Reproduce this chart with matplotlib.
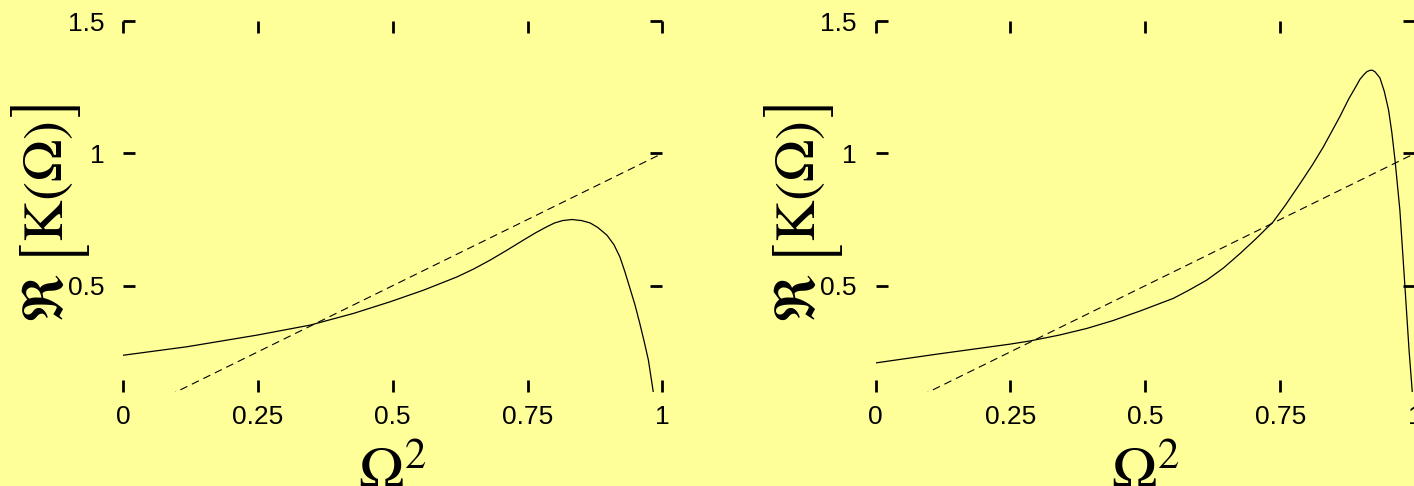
import os
import matplotlib
matplotlib.use("Agg")
import matplotlib.pyplot as plt
from matplotlib.font_manager import FontProperties

# Re[K(Omega)] against Omega^2, two parameter cases, with the line y = Omega^2
omega2_a = [0.0, 0.118, 0.248, 0.347, 0.427, 0.495, 0.557, 0.619, 0.650, 0.680,
            0.710, 0.742, 0.765, 0.785, 0.800, 0.815, 0.832, 0.850, 0.866, 0.880,
            0.897, 0.910, 0.921, 0.930, 0.939, 0.949, 0.958, 0.966, 0.974, 0.983]
re_k_a = [0.237, 0.269, 0.313, 0.351, 0.395, 0.439, 0.483, 0.533, 0.563, 0.596,
          0.632, 0.672, 0.700, 0.722, 0.737, 0.746, 0.750, 0.746, 0.737, 0.720,
          0.691, 0.655, 0.609, 0.555, 0.495, 0.428, 0.357, 0.290, 0.218, 0.098]

omega2_b = [0.0, 0.113, 0.249, 0.286, 0.340, 0.391, 0.440, 0.490, 0.552, 0.580,
            0.614, 0.645, 0.676, 0.705, 0.737, 0.760, 0.787, 0.810, 0.830, 0.845,
            0.861, 0.877, 0.892, 0.898, 0.905, 0.911, 0.917, 0.921, 0.926, 0.935,
            0.943, 0.951, 0.957, 0.963, 0.972, 0.981, 0.989, 0.995]
re_k_b = [0.208, 0.241, 0.279, 0.291, 0.313, 0.338, 0.368, 0.404, 0.452, 0.482,
          0.521, 0.567, 0.622, 0.677, 0.741, 0.805, 0.886, 0.957, 1.024, 1.080,
          1.140, 1.205, 1.258, 1.280, 1.297, 1.309, 1.314, 1.314, 1.308, 1.285,
          1.235, 1.164, 1.080, 0.974, 0.785, 0.508, 0.256, 0.098]

diag_x = [0.0, 1.0]
diag_y = [0.0, 1.0]

xticks = [0, 0.25, 0.5, 0.75, 1]
xtick_labels = ["0", "0.25", "0.5", "0.75", "1"]
yticks = [0.5, 1, 1.5]
ytick_labels = ["0.5", "1", "1.5"]

BG = "#ffff99"
plt.rcParams["mathtext.fontset"] = "stix"
plt.rcParams["font.family"] = ["Liberation Sans", "DejaVu Sans"]

# big square brackets come from the STIX size-1 font shipped with matplotlib
big_delims = FontProperties(
    fname=os.path.join(matplotlib.get_data_path(), "fonts", "ttf", "STIXSizOneSymReg.ttf"),
    size=41)

# y label pieces: text, font, baseline offset, offset along the axis (pixels)
ylabel_parts = [
    (r"$\Re$", None, -60.5, -113),
    ("[", big_delims, -52, -45),
    (r"$\mathrm{K}(\Omega)$", None, -60.5, -32),
    ("]", big_delims, -52, 94),
]

fig = plt.figure(figsize=(14.14, 4.86), dpi=100, facecolor=BG)
ax1 = fig.add_axes([0.0870, 0.1944, 0.3815, 0.7623])
ax2 = fig.add_axes([0.6192, 0.1944, 0.3815, 0.7623])

for ax, xs, ys in [(ax1, omega2_a, re_k_a), (ax2, omega2_b, re_k_b)]:
    ax.set_facecolor(BG)
    ax.plot(xs, ys, color="black", lw=0.9)
    ax.plot(diag_x, diag_y, color="black", lw=0.8, linestyle=(0, (7, 4.5)))
    ax.set_xlim(0, 1)
    ax.set_ylim(0.1, 1.5)
    for s in ax.spines.values():
        s.set_visible(False)
    ax.set_xticks(xticks)
    ax.set_xticklabels(xtick_labels)
    ax.set_yticks(yticks)
    ax.set_yticklabels(ytick_labels)
    ax.tick_params(which="both", direction="in", top=True, right=True,
                   length=8.6, width=2, labelsize=19, color="black")
    ax.tick_params(axis="x", pad=9.5)
    ax.tick_params(axis="y", pad=13.5)

    ax.set_xlabel(r"$\Omega^2$", fontsize=44)
    ax.xaxis.label.set_verticalalignment("baseline")
    ax.xaxis.set_label_coords(0.5, -0.266)

    for txt, fp, dx, dy in ylabel_parts:
        kw = {"fontproperties": fp} if fp is not None else {"fontsize": 41}
        ax.annotate(txt, xy=(0, 0.49), xycoords="axes fraction",
                    xytext=(dx, dy), textcoords="offset pixels",
                    rotation=90, rotation_mode="anchor", ha="left",
                    va="baseline", annotation_clip=False, **kw)

fig.savefig("out.png", dpi=100, facecolor=BG)
